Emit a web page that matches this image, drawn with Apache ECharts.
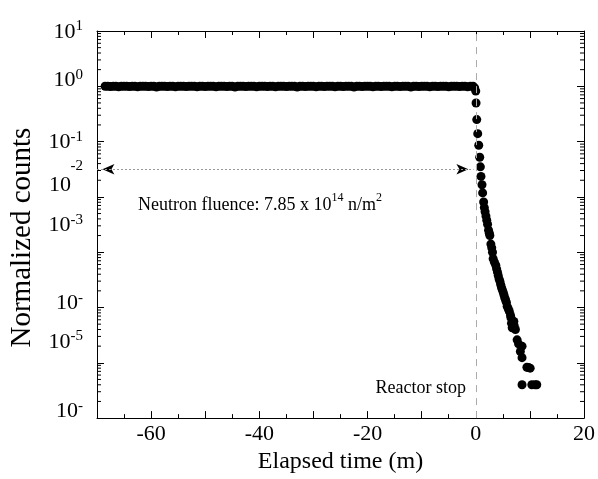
<!DOCTYPE html>
<html>
<head>
<meta charset="utf-8">
<script src="https://cdn.jsdelivr.net/npm/echarts@6/dist/echarts.min.js"></script>
<style>
html,body{margin:0;padding:0;background:#fff;}
#chart{width:598px;height:479px;}
</style>
</head>
<body>
<div id="chart"></div>
<script>
// ---- data ----
const xMin = -70, xMax = 20;
const xTickLabels = [-60, -40, -20, 0, 20];
const yTickExp = [1, 0, -1, -2, -3, -4, -5, -6];
const yTickSup = ['1', '0', '-1', '-2', '-3', '-', '-5', '-'];
const yLabelLift = [0, 7, 0, 0, 28, 5, 22, 8];

// flat (reactor on) part: sampled every 0.5 min from -68.5 min
const flatStart = -68.5, flatStep = 0.5;
const flatValues = [
1,1,0.99,1,1,0.98,1,1,1,0.99,
1,1,0.98,1,1,1,0.99,1,1,0.97,
1,1,1,0.99,1,1,0.98,1,1,1,
0.99,1,1,1,0.98,1,1,0.99,1,1,
1,0.98,1,1,1,0.99,1,1,0.97,1,
1,1,0.99,1,1,1,0.98,1,1,1,
0.99,1,1,0.98,1,1,1,0.99,1,1,
1,0.97,1,1,0.99,1,1,1,0.98,1,
1,0.99,1,1,1,0.98,1,1,0.99,1,
1,1,0.97,1,1,0.99,1,1,1,0.98,
1,1,0.99,1,1,1,0.98,1,1,0.99,
1,1,1,0.97,1,1,0.99,1,1,1,
0.98,1,1,0.99,1,1,1,0.98,1,1,
1,0.99,1,1,0.98,1,1
];

// decay after reactor stop
const decayTime = [
-0.2, 0.0, 0.05, 0.18, 0.36, 0.55, 0.73, 0.85, 0.96, 1.15,
1.27, 1.45, 1.58, 1.72, 1.88, 2.03, 2.18, 2.36, 2.5, 2.6,
2.79, 2.95, 3.09, 3.21, 3.45, 3.7, 3.85, 4.0, 4.15, 4.3,
4.45, 4.6, 4.75, 4.9, 5.05, 5.2, 5.35, 5.5, 5.65, 5.8,
6.0, 6.2, 6.42, 6.5, 6.6, 6.73, 7.04, 7.1, 7.33, 7.64,
7.9, 8.24, 8.55, 8.55, 9.45, 9.75, 10.05, 8.55, 10.36, 10.96,
11.27
];
const decayValues = [
0.93, 0.82, 0.50, 0.25, 0.139, 0.086, 0.052, 0.035, 0.0235, 0.0166,
0.0118, 0.0081, 0.0064, 0.0054, 0.0045, 0.0038, 0.0032, 0.0025, 0.0022, 0.0020,
0.0014, 0.0012, 0.0010, 0.00076, 0.00066, 0.00058, 0.0005, 0.00044, 0.00038, 0.00033,
0.0003, 0.00026, 0.00023, 0.00021, 0.00019, 0.00017, 0.00015, 0.000138, 0.000125, 0.000105,
0.000095, 0.000085, 0.000072, 0.000065, 0.000052, 0.000043, 0.000056, 0.000047, 0.000040, 0.000026,
0.000022, 0.000016, 0.000020, 0.0000124, 0.0000083, 0.0000082, 0.000008, 0.000004, 0.000004, 0.000004,
0.000004
];

// annotation: fluence arrow
const fluenceY = 0.0316;
const fluenceFrom = -70, fluenceTo = -0.4;
const arrowHeadX = [-69.0, -1.36];
const stopTime = 0;

// ---- build ----
const flatData = flatValues.map((v, i) => [flatStart + i * flatStep, v]);
const decayData = decayTime.map((t, i) => [t, decayValues[i]]);

const minorTickVals = [];
for (let n = -6; n <= 0; n++) {
  for (let k = 2; k <= 9; k++) minorTickVals.push([xMin, k * Math.pow(10, n)]);
}

const FONT = '"Liberation Serif", "Times New Roman", serif';

const yRich = {
  b: {fontSize: 22, fontFamily: FONT, color: '#000', lineHeight: 24, verticalAlign: 'bottom'},
  s: {fontSize: 15, fontFamily: FONT, color: '#000', lineHeight: 24, verticalAlign: 'top'},
  s2: {fontSize: 15, fontFamily: FONT, color: '#000', lineHeight: 16},
  b2: {fontSize: 22, fontFamily: FONT, color: '#000', lineHeight: 22, padding: [0, 12, 0, 0]},
  sp40: {fontSize: 1, lineHeight: 40}
};
yLabelLift.forEach(d => { if (d > 0) yRich['sp' + d] = {fontSize: 1, lineHeight: 2 * d}; });

function yLabel(value) {
  const e = Math.round(Math.log10(value));
  const i = yTickExp.indexOf(e);
  if (i < 0) return '';
  if (e === -2) {
    return '{s2|' + yTickSup[i] + '}\n{b2|10}\n{sp40| }';
  }
  let s = '{b|10}{s|' + yTickSup[i] + '}';
  if (yLabelLift[i] > 0) s += '\n{sp' + yLabelLift[i] + '| }';
  return s;
}

const chart = echarts.init(document.getElementById('chart'), null, {renderer: 'canvas'});

const xAxisBase = {
  type: 'value', min: xMin, max: xMax, interval: 10,
  axisLine: {show: true, onZero: false, lineStyle: {color: '#000', width: 1}},
  axisTick: {show: true, inside: true, length: 7, lineStyle: {color: '#000'}},
  minorTick: {show: true, splitNumber: 2, length: 4, lineStyle: {color: '#000'}},
  splitLine: {show: false},
  minorSplitLine: {show: false}
};
const yAxisBase = {
  type: 'log', logBase: 10, min: 1e-6, max: 10, interval: 1,
  axisLine: {show: true, onZero: false, lineStyle: {color: '#000', width: 1}},
  axisTick: {show: true, inside: true, length: 7, lineStyle: {color: '#000'}},
  minorTick: {show: false},
  splitLine: {show: false}
};

chart.setOption({
  animation: false,
  backgroundColor: '#fff',
  grid: {left: 93, right: 10, top: 31, bottom: 56, containLabel: false},
  xAxis: [
    Object.assign({}, xAxisBase, {
      position: 'bottom',
      name: 'Elapsed time (m)', nameLocation: 'middle', nameGap: 26,
      nameTextStyle: {fontSize: 24, fontFamily: FONT, color: '#000'},
      axisLabel: {
        show: true, margin: 5, fontSize: 22, fontFamily: FONT, color: '#000',
        showMinLabel: true, showMaxLabel: true,
        formatter: v => xTickLabels.indexOf(v) >= 0 ? String(v) : ''
      }
    }),
    Object.assign({}, xAxisBase, {position: 'top', axisLabel: {show: false}})
  ],
  yAxis: [
    Object.assign({}, yAxisBase, {
      position: 'left',
      name: 'Normalized counts', nameLocation: 'middle', nameGap: 60,
      nameTextStyle: {fontSize: 29, fontFamily: FONT, color: '#000', padding: [0, 26, 0, 0]},
      axisLabel: {show: true, margin: 14, formatter: yLabel, rich: yRich,
                  showMinLabel: true, showMaxLabel: true}
    }),
    Object.assign({}, yAxisBase, {position: 'right', axisLabel: {show: false}})
  ],
  series: [
    {
      type: 'scatter', name: 'flat', data: flatData,
      symbol: 'circle', symbolSize: 9,
      itemStyle: {color: '#000', opacity: 1},
      z: 3,
      markLine: {
        silent: true, symbol: ['none', 'none'], animation: false,
        label: {show: false},
        data: [
          {xAxis: stopTime, lineStyle: {color: '#aaa', type: [7, 6], width: 1, opacity: 1}},
          [
            {coord: [fluenceFrom, fluenceY], lineStyle: {color: '#999', type: [2, 2], width: 1, opacity: 1}},
            {coord: [fluenceTo, fluenceY]}
          ]
        ]
      }
    },
    {
      type: 'scatter', name: 'decay', data: decayData,
      symbol: 'circle', symbolSize: 9,
      itemStyle: {color: '#000', opacity: 1},
      z: 3
    },
    {
      type: 'scatter', name: 'arrows',
      data: [
        {value: [arrowHeadX[0], fluenceY], symbolRotate: 90},
        {value: [arrowHeadX[1], fluenceY], symbolRotate: -90}
      ],
      symbol: 'arrow', symbolSize: [8, 12],
      itemStyle: {color: '#000', opacity: 1},
      z: 4
    },
    {
      type: 'custom', name: 'logMinorTicks', data: minorTickVals,
      encode: {x: 0, y: 1}, silent: true, z: 2,
      renderItem: function (params, api) {
        const v = api.value(1);
        const pl = api.coord([xMin, v]);
        const pr = api.coord([xMax, v]);
        return {
          type: 'group',
          children: [
            {type: 'line', shape: {x1: pl[0], y1: pl[1], x2: pl[0] + 4, y2: pl[1]},
             style: {stroke: '#000', lineWidth: 1}},
            {type: 'line', shape: {x1: pr[0], y1: pr[1], x2: pr[0] - 4, y2: pr[1]},
             style: {stroke: '#000', lineWidth: 1}}
          ]
        };
      }
    }
  ],
  graphic: [
    {
      type: 'text', x: 138, y: 203, silent: true,
      style: {
        text: '{t|Neutron fluence: 7.85 x 10}{s|14}{t| n/m}{s|2}',
        verticalAlign: 'middle', align: 'left',
        rich: {
          t: {fontSize: 18, fontFamily: FONT, fill: '#000', color: '#000', lineHeight: 22, verticalAlign: 'bottom'},
          s: {fontSize: 12, fontFamily: FONT, fill: '#000', color: '#000', lineHeight: 22, verticalAlign: 'top'}
        }
      }
    },
    {
      type: 'text', x: 466, y: 388, silent: true,
      style: {
        text: 'Reactor stop', align: 'right', verticalAlign: 'middle',
        fontSize: 18, fontFamily: FONT, fill: '#000'
      }
    }
  ]
});
</script>
</body>
</html>
